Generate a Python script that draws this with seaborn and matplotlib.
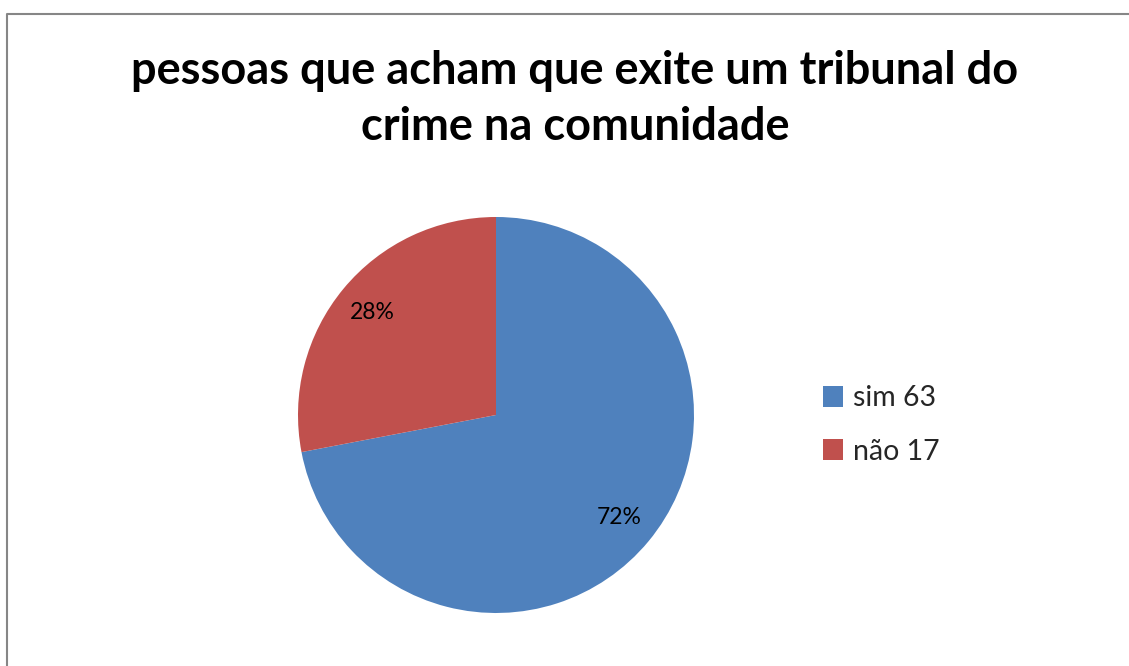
import matplotlib
matplotlib.use("Agg")
import matplotlib.pyplot as plt
from matplotlib.lines import Line2D
from matplotlib.patches import Patch
import seaborn as sns

# Survey answers
labels = ["sim 63", "não 17"]
shares = [72, 28]
colors = ["#4F81BD", "#C0504D"]
title_text = "pessoas que acham que exite um tribunal do\ncrime na comunidade"

sns.set_theme(style="white")
plt.rcParams["font.family"] = ["Lato", "DejaVu Sans"]

W, H = 1129, 666
fig = plt.figure(figsize=(W / 100, H / 100), dpi=100)

# chart-area frame (left and top edges visible)
fig.add_artist(Line2D([7 / W, 7 / W, 1.0], [0.0, 1 - 13.5 / H, 1 - 13.5 / H],
                      transform=fig.transFigure, color="#868686", lw=1.5))

# pie axes centred on the plot area
cx, cy, r = 496, 415, 198
ax = fig.add_axes([(cx - r) / W, (H - cy - r) / H, 2 * r / W, 2 * r / H])
wedges, texts, autotexts = ax.pie(
    shares, colors=colors, startangle=90, counterclock=False,
    autopct=lambda p: f"{p:.0f}%", pctdistance=0.81,
    wedgeprops=dict(linewidth=0),
    textprops=dict(fontsize=16.5, color="black"),
)
ax.set_xlim(-1, 1)
ax.set_ylim(-1, 1)
ax.set_aspect("equal")
ax.axis("off")

fig.text(575 / W, 1 - 99 / H, title_text, ha="center", va="center",
         fontsize=32.5, fontweight="bold", linespacing=1.42, color="black")

handles = [Patch(facecolor=c, edgecolor="none") for c in colors]
fig.legend(handles, labels, loc="center left",
           bbox_to_anchor=(797 / W, 1 - 425 / H), frameon=False,
           fontsize=20.5, handlelength=0.72, handleheight=0.72,
           handletextpad=0.35, labelspacing=0.95)

fig.savefig("out.png", dpi=100, facecolor="white")
